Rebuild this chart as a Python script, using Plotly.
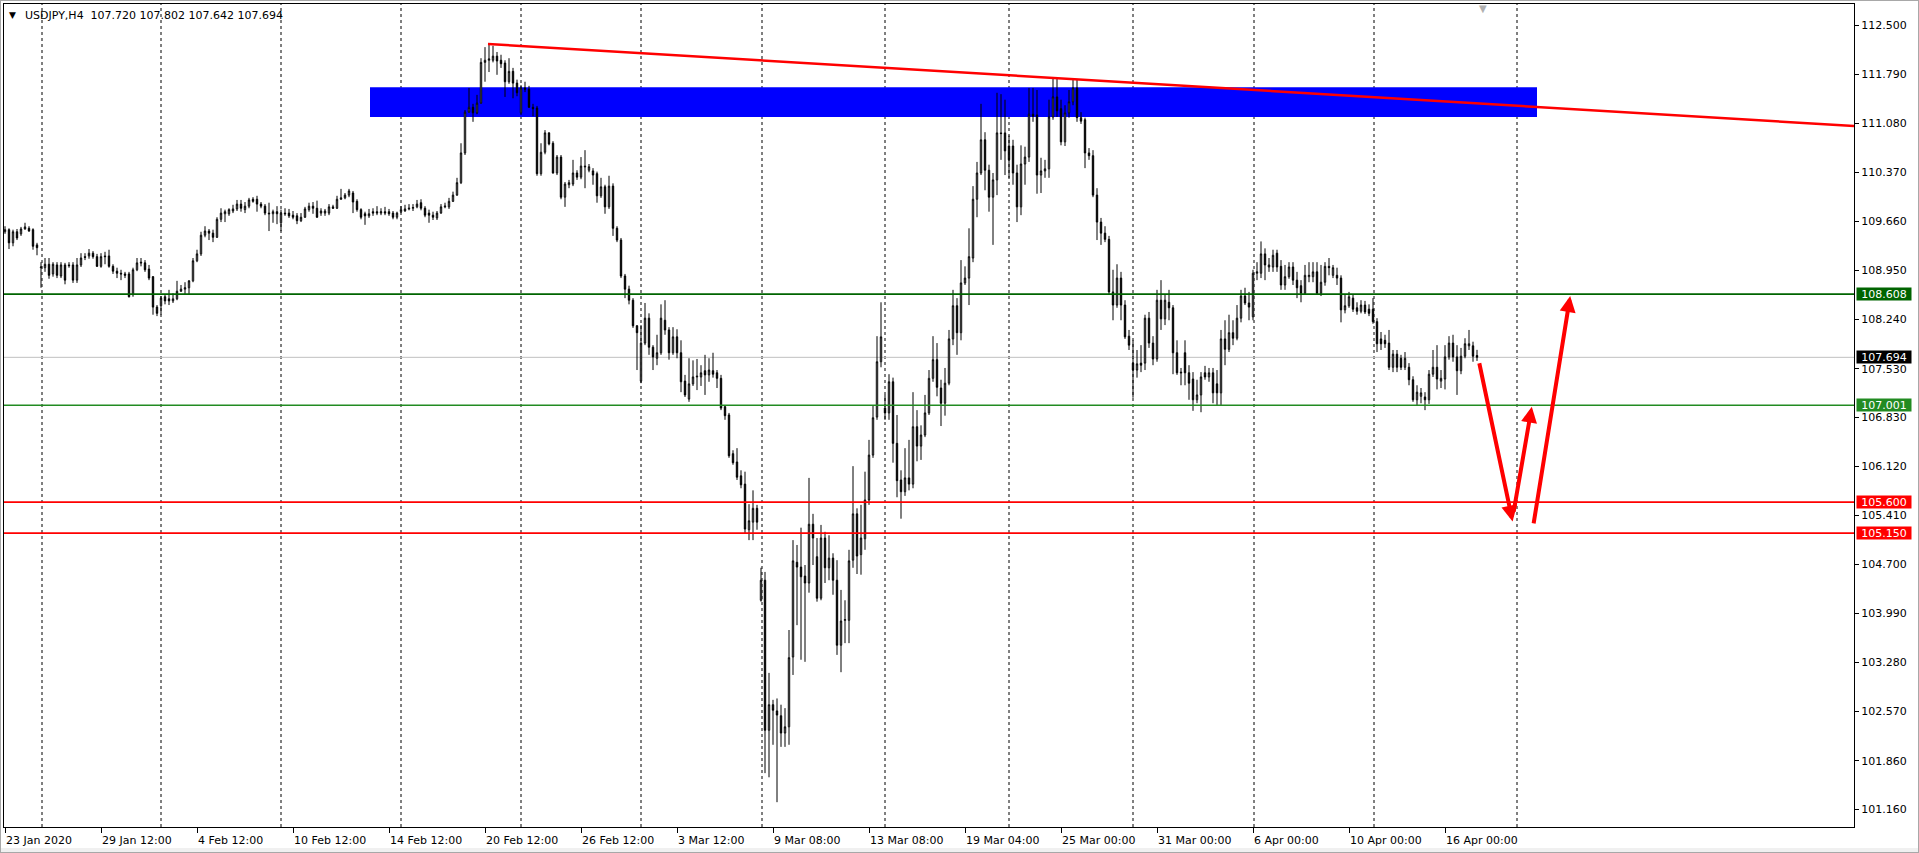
import plotly.graph_objects as go

# ---------------- data (USDJPY, H4) ----------------
opens = [
    109.51, 109.54, 109.35, 109.51, 109.48, 109.55, 109.56, 109.54, 109.32, 108.99,
    108.99, 109.04, 108.90, 109.03, 108.87, 109.03, 109.03, 109.03, 108.81, 109.03,
    109.15, 109.16, 109.20, 109.15, 109.01, 109.16, 109.16, 109.01, 108.94, 108.91,
    108.90, 108.90, 108.60, 108.96, 109.07, 109.06, 108.97, 108.86, 108.42, 108.44,
    108.57, 108.54, 108.51, 108.54, 108.65, 108.68, 108.70, 108.80, 109.09, 109.19,
    109.46, 109.52, 109.49, 109.43, 109.69, 109.77, 109.77, 109.81, 109.84, 109.91,
    109.83, 109.88, 109.98, 109.98, 109.91, 109.88, 109.78, 109.77, 109.80, 109.64,
    109.78, 109.78, 109.75, 109.74, 109.67, 109.72, 109.83, 109.88, 109.85, 109.78,
    109.78, 109.78, 109.87, 109.85, 109.98, 110.00, 110.04, 110.07, 109.95, 109.83,
    109.77, 109.74, 109.80, 109.80, 109.78, 109.80, 109.80, 109.78, 109.72, 109.80,
    109.81, 109.84, 109.85, 109.87, 109.93, 109.85, 109.78, 109.75, 109.71, 109.78,
    109.87, 109.87, 109.95, 110.04, 110.22, 110.65, 111.24, 111.31, 111.23, 111.37,
    111.96, 111.99, 111.99, 112.05, 111.99, 111.95, 111.68, 111.83, 111.66, 111.23,
    111.59, 111.57, 111.31, 111.30, 110.35, 110.66, 110.94, 110.79, 110.36, 110.59,
    110.01, 110.19, 110.20, 110.36, 110.30, 110.46, 110.40, 110.39, 110.35, 110.03,
    110.16, 109.87, 110.17, 109.56, 109.39, 108.87, 108.68, 108.52, 108.15, 107.35,
    107.90, 108.26, 107.84, 107.68, 107.76, 108.23, 108.09, 107.76, 107.99, 107.76,
    107.35, 107.09, 107.31, 107.41, 107.41, 107.50, 107.44, 107.50, 107.47, 107.39,
    106.98, 106.86, 106.30, 106.18, 105.98, 105.86, 105.20, 105.31, 105.51, 104.18,
    104.47, 102.30, 102.67, 102.58, 102.51, 102.26, 102.35, 103.36, 104.73, 104.66,
    104.53, 104.43, 105.28, 104.81, 104.21, 105.08, 104.65, 104.79, 104.47, 103.53,
    103.89, 103.89, 104.76, 105.43, 104.84, 105.07, 105.63, 106.28, 106.83, 107.63,
    106.96, 106.89, 107.34, 106.45, 105.92, 105.75, 105.95, 105.86, 106.69, 106.41,
    106.57, 106.89, 107.39, 107.66, 107.25, 107.03, 107.32, 107.96, 108.44, 108.05,
    108.77, 108.84, 109.13, 109.98, 110.36, 110.84, 110.40, 110.01, 110.26, 110.94,
    110.94, 110.75, 110.75, 110.36, 109.87, 110.49, 110.59, 111.21, 111.20, 110.33,
    110.39, 110.42, 111.17, 111.46, 111.29, 110.81, 111.23, 111.39, 111.59, 111.16,
    111.13, 110.65, 110.61, 110.04, 109.65, 109.49, 109.40, 108.64, 108.45, 108.84,
    108.45, 108.00, 107.61, 107.51, 107.61, 107.61, 108.26, 107.90, 107.67, 108.52,
    108.25, 108.49, 108.41, 107.76, 107.48, 107.76, 107.47, 107.38, 107.08, 107.15,
    107.47, 107.41, 107.47, 107.31, 107.18, 107.96, 107.81, 108.05, 107.97, 108.26,
    108.58, 108.48, 108.28, 108.91, 108.91, 109.19, 109.00, 109.00, 109.20, 109.01,
    108.74, 108.86, 109.00, 108.81, 108.73, 108.62, 108.86, 108.86, 108.93, 108.62,
    108.78, 109.01, 108.88, 108.88, 108.84, 108.38, 108.44, 108.55, 108.41, 108.36,
    108.45, 108.39, 108.39, 108.21, 107.96, 107.94, 107.90, 107.55, 107.74, 107.68,
    107.55, 107.55, 107.37, 107.08, 107.13, 107.12, 107.08, 107.45, 107.55, 107.35,
    107.38, 107.70, 107.90, 107.70, 107.50, 107.71, 107.86, 107.86, 107.720,
]
highs = [
    109.59, 109.56, 109.54, 109.55, 109.58, 109.64, 109.59, 109.56, 109.35, 109.07,
    109.13, 109.13, 109.07, 109.07, 109.07, 109.06, 109.07, 109.07, 109.13, 109.20,
    109.20, 109.26, 109.23, 109.19, 109.20, 109.22, 109.25, 109.04, 108.99, 108.96,
    108.93, 108.93, 108.99, 109.13, 109.13, 109.10, 109.03, 108.87, 108.45, 108.58,
    108.61, 108.67, 108.62, 108.80, 108.74, 108.78, 108.81, 109.13, 109.25, 109.51,
    109.59, 109.55, 109.54, 109.72, 109.85, 109.83, 109.85, 109.90, 109.97, 109.97,
    109.94, 110.00, 110.01, 110.03, 109.94, 109.91, 109.93, 109.83, 109.88, 109.83,
    109.85, 109.84, 109.81, 109.78, 109.78, 109.87, 109.93, 109.94, 109.96, 109.85,
    109.84, 109.91, 109.90, 110.03, 110.13, 110.07, 110.13, 110.10, 109.98, 109.85,
    109.80, 109.84, 109.85, 109.88, 109.85, 109.87, 109.84, 109.81, 109.80, 109.88,
    109.90, 109.91, 109.91, 109.97, 109.98, 109.88, 109.83, 109.80, 109.81, 109.91,
    109.93, 110.00, 110.09, 110.29, 110.79, 111.27, 111.59, 111.36, 111.49, 112.02,
    112.18, 112.23, 112.20, 112.11, 112.07, 111.99, 112.02, 111.88, 111.71, 111.63,
    111.68, 111.62, 111.36, 111.33, 110.79, 110.98, 110.95, 110.82, 110.62, 110.62,
    110.23, 110.26, 110.55, 110.40, 110.59, 110.69, 110.49, 110.43, 110.38, 110.29,
    110.19, 110.32, 110.21, 109.59, 109.42, 108.90, 108.73, 108.55, 108.16, 108.16,
    108.48, 108.33, 107.87, 108.02, 108.46, 108.52, 108.13, 108.13, 108.10, 107.94,
    107.44, 107.68, 107.65, 107.67, 107.58, 107.73, 107.68, 107.76, 107.51, 107.44,
    107.00, 106.89, 106.35, 106.38, 106.06, 106.04, 105.57, 105.77, 105.56, 104.65,
    104.59, 103.13, 102.74, 102.76, 102.67, 102.62, 103.75, 105.05, 104.98, 105.23,
    104.69, 105.95, 105.43, 105.08, 105.27, 105.17, 105.12, 104.86, 104.76, 104.33,
    104.18, 104.91, 106.12, 105.51, 105.56, 106.04, 106.50, 107.00, 108.00, 108.49,
    107.15, 107.45, 107.40, 106.86, 106.06, 106.38, 106.50, 107.19, 106.93, 106.71,
    107.15, 107.51, 108.00, 107.90, 107.37, 107.54, 108.09, 108.67, 108.55, 109.10,
    109.01, 109.56, 110.17, 110.52, 111.36, 110.95, 110.48, 110.36, 111.52, 111.50,
    111.42, 110.90, 110.84, 110.48, 110.76, 110.74, 111.59, 111.59, 111.56, 110.58,
    110.55, 111.42, 111.73, 111.73, 111.42, 111.34, 111.56, 111.71, 111.71, 111.24,
    111.16, 110.72, 110.69, 110.14, 109.71, 109.59, 109.45, 108.96, 109.04, 108.93,
    108.52, 108.09, 107.94, 107.80, 107.87, 108.31, 108.35, 108.00, 108.67, 108.81,
    108.60, 108.67, 108.45, 107.94, 107.54, 107.94, 107.58, 107.48, 107.37, 107.48,
    107.57, 107.54, 107.54, 107.51, 108.09, 108.23, 108.31, 108.23, 108.45, 108.67,
    108.70, 108.64, 108.96, 109.07, 109.37, 109.27, 109.13, 109.25, 109.25, 109.10,
    109.03, 109.07, 109.07, 108.93, 108.81, 109.03, 109.07, 109.07, 109.07, 109.03,
    109.07, 109.13, 109.03, 108.99, 108.88, 108.60, 108.64, 108.60, 108.49, 108.52,
    108.51, 108.46, 108.55, 108.26, 108.06, 108.02, 108.09, 107.80, 107.80, 107.73,
    107.77, 107.61, 107.42, 107.29, 107.25, 107.19, 107.51, 107.80, 107.87, 107.51,
    107.87, 108.00, 108.02, 107.87, 107.83, 107.97, 108.09, 107.92, 107.802,
]
lows = [
    109.48, 109.26, 109.30, 109.39, 109.45, 109.54, 109.51, 109.25, 109.17, 108.70,
    108.93, 108.83, 108.86, 108.84, 108.84, 108.75, 108.99, 108.77, 108.77, 109.00,
    109.10, 109.12, 109.12, 109.00, 108.99, 109.04, 108.99, 108.90, 108.84, 108.81,
    108.84, 108.56, 108.57, 108.94, 109.01, 108.93, 108.81, 108.31, 108.29, 108.31,
    108.46, 108.45, 108.48, 108.52, 108.64, 108.60, 108.60, 108.78, 109.07, 109.16,
    109.43, 109.39, 109.36, 109.42, 109.65, 109.65, 109.74, 109.78, 109.81, 109.80,
    109.78, 109.85, 109.93, 109.80, 109.85, 109.75, 109.52, 109.64, 109.62, 109.52,
    109.74, 109.71, 109.69, 109.62, 109.65, 109.71, 109.80, 109.77, 109.71, 109.74,
    109.74, 109.75, 109.84, 109.84, 109.97, 109.98, 110.01, 109.78, 109.80, 109.69,
    109.61, 109.71, 109.74, 109.75, 109.75, 109.75, 109.74, 109.69, 109.69, 109.78,
    109.80, 109.82, 109.81, 109.85, 109.82, 109.72, 109.64, 109.68, 109.68, 109.77,
    109.85, 109.84, 109.94, 110.03, 110.20, 110.62, 111.23, 111.10, 111.21, 111.36,
    111.68, 111.82, 111.96, 111.78, 111.88, 111.46, 111.65, 111.44, 111.47, 111.20,
    111.53, 111.30, 111.18, 110.32, 110.32, 110.63, 110.76, 110.35, 110.33, 109.98,
    109.87, 110.14, 110.17, 110.26, 110.27, 110.14, 110.37, 110.19, 109.93, 110.00,
    109.77, 109.84, 109.45, 109.36, 108.84, 108.55, 108.46, 108.12, 107.51, 107.32,
    107.87, 107.73, 107.51, 107.58, 107.73, 108.02, 107.66, 107.73, 107.68, 107.19,
    107.12, 107.05, 107.28, 107.22, 107.28, 107.15, 107.34, 107.40, 107.25, 106.93,
    106.79, 106.24, 106.14, 105.92, 105.80, 105.15, 105.05, 105.05, 105.20, 104.16,
    101.68, 101.62, 102.09, 101.26, 102.06, 102.06, 102.09, 103.10, 103.82, 103.32,
    103.29, 104.29, 104.69, 104.16, 104.18, 104.43, 104.47, 104.26, 103.39, 103.14,
    103.56, 103.56, 104.65, 104.56, 104.55, 104.91, 105.56, 106.24, 106.79, 107.55,
    106.79, 106.79, 106.17, 105.67, 105.36, 105.69, 105.77, 105.80, 106.19, 106.21,
    106.54, 106.86, 107.34, 107.13, 106.70, 106.85, 107.29, 107.87, 107.73, 107.94,
    108.74, 108.45, 109.07, 109.72, 110.33, 110.11, 109.80, 109.32, 110.04, 110.55,
    110.33, 110.29, 110.19, 109.65, 109.75, 110.19, 110.52, 111.10, 110.06, 110.07,
    110.29, 110.29, 111.13, 111.17, 110.76, 110.75, 111.16, 111.34, 111.10, 111.07,
    110.43, 110.55, 110.01, 109.39, 109.32, 109.36, 108.61, 108.23, 108.41, 108.23,
    107.96, 107.80, 107.11, 107.40, 107.48, 107.51, 107.83, 107.58, 107.63, 108.09,
    108.16, 108.23, 107.45, 107.44, 107.29, 107.29, 107.08, 106.92, 107.03, 106.90,
    107.37, 107.34, 107.03, 107.00, 107.00, 107.58, 107.77, 107.87, 107.94, 108.20,
    108.45, 108.23, 108.23, 108.81, 108.84, 108.81, 108.93, 108.93, 108.93, 108.67,
    108.67, 108.83, 108.74, 108.55, 108.49, 108.60, 108.78, 108.78, 108.60, 108.58,
    108.73, 108.88, 108.84, 108.74, 108.20, 108.33, 108.41, 108.35, 108.31, 108.33,
    108.32, 108.29, 108.18, 107.77, 107.80, 107.83, 107.51, 107.48, 107.48, 107.51,
    107.51, 107.29, 107.05, 107.00, 107.03, 106.93, 107.02, 107.41, 107.23, 107.25,
    107.23, 107.66, 107.63, 107.15, 107.45, 107.68, 107.80, 107.63, 107.642,
]
closes = [
    109.54, 109.35, 109.51, 109.42, 109.55, 109.58, 109.52, 109.30, 109.28, 109.00,
    109.04, 108.88, 109.04, 108.88, 109.03, 108.81, 109.02, 108.81, 109.03, 109.13,
    109.14, 109.20, 109.15, 109.01, 109.15, 109.15, 109.01, 108.94, 108.91, 108.90,
    108.88, 108.57, 108.96, 109.06, 109.06, 108.96, 108.84, 108.42, 108.33, 108.55,
    108.51, 108.51, 108.54, 108.65, 108.68, 108.70, 108.80, 109.09, 109.19, 109.46,
    109.52, 109.49, 109.43, 109.69, 109.78, 109.80, 109.83, 109.84, 109.91, 109.85,
    109.88, 109.97, 109.95, 109.91, 109.88, 109.78, 109.77, 109.80, 109.77, 109.78,
    109.77, 109.74, 109.72, 109.67, 109.72, 109.84, 109.88, 109.85, 109.72, 109.81,
    109.81, 109.87, 109.85, 109.98, 110.00, 110.04, 110.10, 109.94, 109.83, 109.72,
    109.74, 109.77, 109.78, 109.78, 109.80, 109.78, 109.77, 109.72, 109.78, 109.83,
    109.84, 109.85, 109.86, 109.91, 109.85, 109.75, 109.75, 109.72, 109.78, 109.87,
    109.88, 109.95, 110.04, 110.22, 110.65, 111.24, 111.31, 111.23, 111.37, 111.96,
    111.99, 112.01, 112.05, 111.98, 111.94, 111.68, 111.83, 111.66, 111.52, 111.59,
    111.57, 111.31, 111.29, 110.35, 110.66, 110.94, 110.78, 110.36, 110.59, 110.01,
    110.20, 110.22, 110.36, 110.30, 110.46, 110.45, 110.45, 110.33, 110.03, 110.16,
    109.87, 110.17, 109.56, 109.39, 108.87, 108.68, 108.52, 108.15, 108.05, 107.90,
    108.26, 107.84, 107.70, 107.76, 108.26, 108.09, 107.76, 107.99, 107.76, 107.34,
    107.15, 107.31, 107.41, 107.42, 107.47, 107.44, 107.51, 107.45, 107.39, 106.96,
    106.85, 106.27, 106.17, 105.96, 105.85, 105.21, 105.33, 105.51, 105.31, 104.47,
    102.30, 102.67, 102.59, 102.52, 102.26, 102.35, 103.35, 104.75, 104.66, 104.52,
    104.43, 105.28, 105.08, 104.21, 105.08, 104.65, 104.79, 104.47, 103.53, 103.88,
    103.90, 104.75, 105.43, 104.82, 105.08, 105.63, 106.28, 106.82, 107.63, 107.99,
    106.89, 107.34, 106.45, 105.91, 105.75, 105.95, 105.86, 106.69, 106.41, 106.57,
    106.89, 107.39, 107.66, 107.26, 107.03, 107.32, 107.96, 108.44, 108.05, 108.77,
    108.84, 109.15, 109.98, 110.36, 110.84, 110.40, 110.01, 110.26, 110.94, 110.93,
    110.68, 110.55, 110.36, 109.87, 110.49, 110.59, 111.21, 111.18, 110.33, 110.39,
    110.42, 111.17, 111.46, 111.26, 110.81, 111.23, 111.39, 111.59, 111.16, 111.11,
    110.65, 110.61, 110.04, 109.65, 109.49, 109.40, 108.64, 108.45, 108.84, 108.45,
    107.99, 107.87, 107.51, 107.60, 107.58, 108.26, 107.90, 107.67, 108.52, 108.25,
    108.52, 108.41, 107.76, 107.47, 107.47, 107.47, 107.32, 107.08, 107.15, 107.41,
    107.41, 107.47, 107.18, 107.18, 107.96, 107.81, 108.05, 107.97, 108.26, 108.58,
    108.48, 108.42, 108.91, 108.93, 109.19, 109.03, 109.03, 109.17, 109.00, 108.74,
    108.86, 109.00, 108.81, 108.70, 108.62, 108.88, 108.88, 108.93, 108.62, 108.78,
    109.01, 108.99, 108.99, 108.84, 108.38, 108.44, 108.57, 108.39, 108.36, 108.45,
    108.35, 108.33, 108.21, 107.89, 107.89, 107.89, 107.55, 107.74, 107.55, 107.55,
    107.68, 107.37, 107.08, 107.19, 107.18, 107.08, 107.45, 107.55, 107.38, 107.39,
    107.70, 107.90, 107.70, 107.50, 107.71, 107.89, 107.89, 107.71, 107.694,
]

# time axis labels (bar index -> label)
tick_bars = [0, 24, 48, 72, 96, 120, 144, 168, 192, 216, 240, 264, 288, 312, 336, 360]
tick_labels = ["23 Jan 2020", "29 Jan 12:00", "4 Feb 12:00", "10 Feb 12:00",
               "14 Feb 12:00", "20 Feb 12:00", "26 Feb 12:00", "3 Mar 12:00",
               "9 Mar 08:00", "13 Mar 08:00", "19 Mar 04:00", "25 Mar 00:00",
               "31 Mar 00:00", "6 Apr 00:00", "10 Apr 00:00", "16 Apr 00:00"]
# weekly separators (bar positions)
week_bars = [9.25, 39, 69, 99, 129, 159, 189.25, 220, 251, 282, 312.25, 342.25, 378]

# price scale
price_ticks = [112.500, 111.790, 111.080, 110.370, 109.660, 108.950, 108.240, 107.530,
               106.830, 106.120, 105.410, 104.700, 103.990, 103.280, 102.570, 101.860, 101.160]
price_range = [100.901, 112.804]

# horizontal levels
level_prices = [108.608, 107.001, 105.600, 105.150]
level_colors = ["#006400", "#228B22", "#FF0000", "#FF0000"]
bid_price = 107.694

# supply zone (blue box) and resistance trend line
zone_bars = [91.25, 383]
zone_prices = [111.17, 111.60]
trend_bars = [120.75, 462.25]
trend_prices = [112.226, 111.04]

# projected path arrows (tail bar, tail price) -> (head bar, head price)
arrow_tails = [(368.5, 107.63), (377.1, 105.44), (382.1, 105.27)]
arrow_heads = [(376.9, 105.32), (381.7, 106.98), (391.3, 108.58)]

x_range = [-0.25, 462.25]
bars = list(range(len(closes)))

FONT = "DejaVu Sans"
W, H = 1919, 853
ML, MR, MT, MB = 4, 65, 4, 26
PW, PH = W - ML - MR, H - MT - MB

fig = go.Figure()
fig.add_trace(go.Candlestick(
    x=bars, open=opens, high=highs, low=lows, close=closes,
    increasing=dict(line=dict(color="black", width=1), fillcolor="white"),
    decreasing=dict(line=dict(color="black", width=1), fillcolor="black"),
    whiskerwidth=0, showlegend=False, hoverinfo="skip",
))

shapes = []
# window frame (light grey border and bottom strip of the terminal window)
shapes.append(dict(type="rect", xref="paper", yref="paper", layer="above",
                   x0=-ML / PW, x1=(W - ML) / PW, y0=-(H - MT - PH - 21) / PH - 21 / PH,
                   y1=-(MB - 5) / PH - 0.0001,
                   fillcolor="#F0F0F0", line=dict(width=0)))
shapes.append(dict(type="rect", xref="paper", yref="paper", layer="above",
                   x0=-ML / PW, x1=(W - ML) / PW, y0=-MB / PH, y1=(PH + MT) / PH,
                   fillcolor="rgba(0,0,0,0)", line=dict(color="#A8A8A8", width=2)))
# blue zone (background)
shapes.append(dict(type="rect", xref="x", yref="y", layer="below",
                   x0=zone_bars[0], x1=zone_bars[1], y0=zone_prices[0], y1=zone_prices[1],
                   fillcolor="#0000FF", line=dict(width=0)))
# weekly dashed separators
for wb in week_bars:
    shapes.append(dict(type="line", xref="x", yref="paper", layer="below",
                       x0=wb, x1=wb, y0=0, y1=1,
                       line=dict(color="black", width=1, dash="3px,3px")))
# bid line
shapes.append(dict(type="line", xref="paper", yref="y", x0=0, x1=1,
                   y0=bid_price, y1=bid_price, layer="below",
                   line=dict(color="#C0C0C0", width=1)))
# levels
for lp, lc in zip(level_prices, level_colors):
    shapes.append(dict(type="line", xref="paper", yref="y", x0=0, x1=1,
                       y0=lp, y1=lp, layer="above",
                       line=dict(color=lc, width=1.7)))
# trend line
shapes.append(dict(type="line", xref="x", yref="y", layer="above",
                   x0=trend_bars[0], x1=trend_bars[1], y0=trend_prices[0], y1=trend_prices[1],
                   line=dict(color="#FF0000", width=2.5)))

annotations = []
# price tags on the right axis
tags = [(bid_price, "black")] + list(zip(level_prices, level_colors))
for p, c in tags:
    annotations.append(dict(xref="paper", yref="y", x=1, y=p, xanchor="left", yanchor="middle",
                            xshift=2, text=f"{p:.3f}", showarrow=False, bgcolor=c,
                            font=dict(family=FONT, size=11, color="white"),
                            width=54, height=12, borderpad=0, align="center"))
# header
annotations.append(dict(xref="paper", yref="paper", x=0, y=1, xanchor="center", yanchor="top",
                        xshift=8.5, yshift=-4, text="▼", showarrow=False,
                        font=dict(family=FONT, size=9, color="black")))
annotations.append(dict(xref="paper", yref="paper", x=0, y=1, xanchor="left", yanchor="top",
                        xshift=19, yshift=-3,
                        text="USDJPY,H4  107.720 107.802 107.642 107.694",
                        showarrow=False, font=dict(family=FONT, size=11, color="black")))
# chart shift marker
annotations.append(dict(xref="x", yref="paper", x=369.5, y=1, xanchor="center", yanchor="top",
                        yshift=3, text="▼", showarrow=False,
                        font=dict(family=FONT, size=10, color="#B0B0B0")))
# projection arrows
for (tx, ty), (hx, hy) in zip(arrow_tails, arrow_heads):
    annotations.append(dict(xref="x", yref="y", axref="x", ayref="y",
                            x=hx, y=hy, ax=tx, ay=ty, text="", showarrow=True,
                            arrowhead=2, arrowsize=0.8, arrowwidth=4,
                            arrowcolor="#FF0000", standoff=0, startstandoff=0))

fig.update_layout(
    width=W, height=H,
    margin=dict(l=ML, r=MR, t=MT, b=MB, autoexpand=False),
    paper_bgcolor="white", plot_bgcolor="white",
    boxgap=0.5,
    font=dict(family=FONT, size=11, color="black"),
    shapes=shapes, annotations=annotations,
    showlegend=False,
    xaxis=dict(range=x_range, rangeslider=dict(visible=False), automargin=False,
               tickmode="array", tickvals=tick_bars, ticktext=tick_labels,
               ticks="outside", ticklen=5, tickcolor="black", tickwidth=1,
               ticklabelposition="outside right", ticklabelstandoff=3,
               showgrid=False, zeroline=False, showline=True, linecolor="black",
               linewidth=1, mirror=True, fixedrange=True,
               tickfont=dict(family=FONT, size=11, color="black")),
    yaxis=dict(range=price_range, side="right", automargin=False,
               tickmode="array", tickvals=price_ticks,
               ticktext=[f"{t:.3f}" for t in price_ticks],
               ticks="outside", ticklen=4, tickcolor="black", tickwidth=1,
               showgrid=False, zeroline=False, showline=True, linecolor="black",
               linewidth=1, mirror=True, fixedrange=True,
               tickfont=dict(family=FONT, size=11, color="black")),
)

fig.write_html("out.html", config={"displayModeBar": False},
               post_script="document.body.style.margin='0px';document.body.style.overflow='hidden';")
